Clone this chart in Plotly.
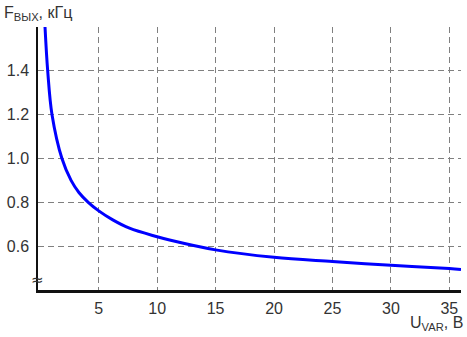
import plotly.graph_objects as go

# Data
u_var = [0.40, 0.63, 1.0, 1.85, 2.63, 3.3, 4.1, 5.0, 6.2, 7.63, 10, 11.06, 15, 20, 25, 30, 35, 36]
f_out = [1.60, 1.40, 1.20, 1.00, 0.90, 0.845, 0.80, 0.761, 0.72, 0.682, 0.643, 0.628, 0.583, 0.549, 0.530, 0.513, 0.498, 0.494]

x_ticks = [5, 10, 15, 20, 25, 30, 35]
y_ticks = [0.6, 0.8, 1.0, 1.2, 1.4, 1.6]
y_tick_text = ["0.6", "0.8", "1.0", "1.2", "1.4", ""]

fig = go.Figure()
fig.add_trace(go.Scatter(
    x=u_var, y=f_out, mode="lines",
    line=dict(color="#0000ff", width=3, shape="spline", smoothing=1.0),
    hoverinfo="skip", showlegend=False,
))

FAM = "Liberation Sans, Arial, sans-serif"
font = dict(family=FAM, size=16, color="#333333")

fig.update_layout(
    width=467, height=337,
    margin=dict(l=38, r=6, t=27, b=47),
    paper_bgcolor="white", plot_bgcolor="white",
    font=font,
    xaxis=dict(
        range=[-0.2, 36], tickvals=x_ticks, ticks="",
        showgrid=True, gridcolor="#808080", griddash="6px,4px", gridwidth=1,
        showline=True, linecolor="#111111", linewidth=3, zeroline=False,
        tickfont=font, ticklabelstandoff=2,
    ),
    yaxis=dict(
        range=[0.4, 1.6], tickvals=y_ticks, ticktext=y_tick_text, ticks="",
        showgrid=True, gridcolor="#808080", griddash="6px,4px", gridwidth=1,
        showline=True, linecolor="#111111", linewidth=1.5, zeroline=False,
        tickfont=font, ticklabelstandoff=4,
    ),
    annotations=[
        dict(text="F<sub>ВЫХ</sub>, кГц", xref="paper", yref="paper",
             x=-36/423, y=1.0 + 25/263, xanchor="left", yanchor="top",
             showarrow=False, font=dict(family=FAM, size=16, color="#333333")),
        dict(text="U<sub>VAR</sub>, В", xref="paper", yref="paper",
             x=1.0 + 4/423, y=-22/263, xanchor="right", yanchor="top",
             showarrow=False, font=dict(family=FAM, size=16, color="#333333")),
        dict(text="≈", xref="paper", yref="y",
             x=0, y=0.447, xanchor="center", yanchor="middle", xshift=-1,
             showarrow=False, bgcolor="rgba(0,0,0,0)", borderpad=0,
             font=dict(family="DejaVu Sans, sans-serif", size=15, color="#333333")),
    ],
)

fig.write_html("out.html")
